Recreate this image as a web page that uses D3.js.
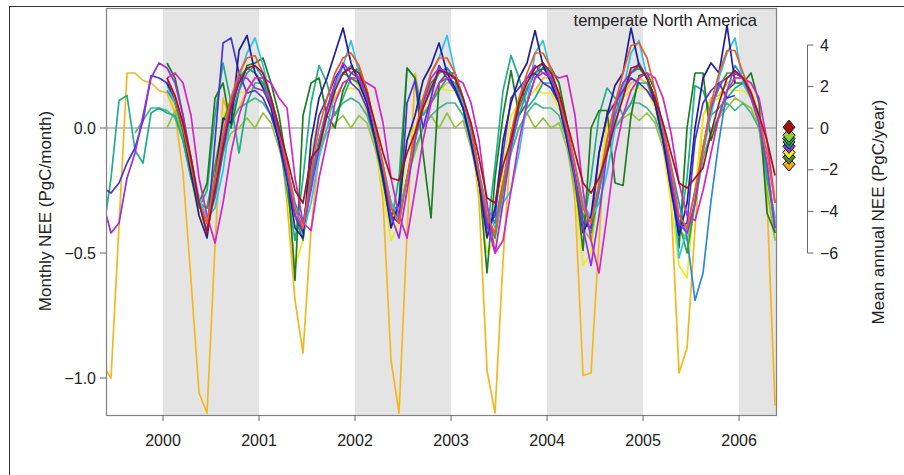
<!DOCTYPE html>
<html><head><meta charset="utf-8">
<script src="https://cdn.jsdelivr.net/npm/d3@7"></script>
<style>body{margin:0;background:#fff}svg{display:block}</style>
</head><body>
<svg id="c" width="904" height="475"></svg>
<script>
// monthly values, May 1999 ... May 2006 (85 months)
const startYear = 1999, startMonth = 5;
const N = null;
const orange = [-0.95,-1.00,-0.39,0.22,0.22,0.19,0.18,0.15,
 0.14,0.06,-0.18,-0.61,-1.06,-1.14,-0.47,0.12,0.02,0.08,0.15,0.20,
 0.20,0.12,0.00,-0.30,-0.69,-0.90,-0.41,-0.10,0.05,0.12,0.18,0.20,
 0.17,0.06,-0.05,-0.29,-0.93,-1.14,-0.42,0.22,0.06,0.10,0.15,0.18,
 0.18,0.08,-0.02,-0.29,-0.97,-1.14,-0.53,-0.05,0.12,0.12,0.15,0.20,
 0.20,0.10,-0.05,-0.29,-0.99,-0.98,-0.45,0.07,0.10,0.13,0.18,0.20,
 0.18,0.08,0.00,-0.29,-0.98,-0.88,-0.40,0.05,0.12,0.13,0.18,0.20,
 0.20,0.15,0.05,-0.29,-1.11];
const navy = [N,N,N,N,N,N,N,N,
 0.18,0.12,0.00,-0.18,-0.35,-0.44,-0.20,0.04,0.02,0.31,0.37,0.22,
 0.16,0.08,-0.06,-0.20,-0.40,-0.44,-0.05,0.12,0.20,0.30,0.40,0.26,
 0.18,0.10,-0.04,-0.20,-0.40,-0.30,-0.05,0.05,0.19,0.25,0.34,0.22,
 0.16,0.08,-0.06,-0.22,-0.44,-0.32,-0.05,0.10,0.20,0.26,0.39,0.25,
 0.18,0.10,-0.05,-0.20,-0.42,-0.35,-0.10,0.05,0.17,0.22,0.40,0.25,
 0.20,0.10,-0.05,-0.25,-0.43,-0.30,0.00,0.20,0.26,0.22,0.41,0.18,
 N,N,N,N,N];
const blue = [-0.24,-0.26,-0.22,-0.14,-0.08,0.03,0.21,0.20,
 0.18,0.12,0.00,-0.15,-0.30,-0.42,-0.05,0.34,0.36,0.22,0.14,0.15,
 0.12,0.05,-0.05,-0.20,-0.35,-0.42,-0.15,0.05,0.12,0.20,0.25,0.18,
 0.15,0.08,-0.05,-0.20,-0.35,-0.38,0.10,0.19,0.00,0.12,0.25,0.20,
 0.15,0.08,-0.05,-0.22,-0.40,-0.35,-0.10,0.12,0.16,0.20,0.22,0.18,
 0.16,0.10,-0.04,-0.20,-0.38,-0.40,-0.10,0.05,0.10,0.15,0.20,0.18,
 0.15,0.10,-0.05,-0.22,-0.40,-0.38,-0.05,0.10,0.15,0.18,0.12,0.13,
 N,N,N,N,N];
const cyan = [N,N,N,N,N,N,N,N,
 0.17,0.10,0.02,-0.12,-0.28,-0.36,-0.32,-0.17,0.05,0.20,0.30,0.36,
 0.25,0.12,0.00,-0.15,-0.32,-0.42,-0.30,-0.12,0.00,0.15,0.25,0.35,
 0.22,0.10,-0.02,-0.15,-0.30,-0.35,-0.20,-0.05,0.10,0.22,0.28,0.37,
 0.22,0.10,-0.02,-0.20,-0.32,-0.40,-0.30,-0.25,-0.10,0.10,0.30,0.35,
 0.22,0.10,-0.02,-0.18,-0.30,-0.36,-0.30,-0.18,0.00,0.15,0.30,0.35,
 0.20,0.10,-0.02,-0.18,-0.52,-0.40,-0.25,-0.10,0.05,0.20,0.30,0.36,
 0.18,0.12,0.03,-0.15,-0.38];
const dodger = [N,N,N,N,N,N,N,N,
 0.15,0.10,0.00,-0.15,-0.30,-0.38,-0.28,-0.10,0.05,0.15,0.22,0.25,
 0.20,0.10,0.00,-0.15,-0.30,-0.38,-0.20,-0.05,0.08,0.16,0.22,0.25,
 0.20,0.12,0.00,-0.15,-0.30,-0.36,-0.20,-0.05,0.08,0.15,0.22,0.24,
 0.20,0.10,0.00,-0.18,-0.32,-0.38,-0.22,-0.08,0.05,0.15,0.22,0.26,
 0.20,0.12,0.00,-0.15,-0.30,-0.38,-0.25,-0.10,0.05,0.15,0.22,0.26,
 0.20,0.12,0.00,-0.15,-0.30,-0.44,-0.69,-0.58,-0.29,-0.05,0.15,0.25,
 0.20,0.14,0.03,-0.15,-0.40];
const redorange = [N,N,N,N,N,N,N,N,
 0.20,0.12,0.00,-0.15,-0.30,-0.38,-0.20,-0.02,0.12,0.22,0.28,0.29,
 0.22,0.12,0.00,-0.15,-0.32,-0.40,-0.18,0.00,0.12,0.22,0.28,0.30,
 0.25,0.15,0.00,-0.15,-0.32,-0.38,-0.20,-0.02,0.12,0.22,0.28,0.28,
 0.22,0.12,0.00,-0.18,-0.35,-0.42,-0.22,-0.02,0.12,0.22,0.30,0.30,
 0.24,0.12,0.00,-0.15,-0.32,-0.38,-0.22,-0.05,0.10,0.22,0.33,0.34,
 0.28,0.15,0.00,-0.15,-0.35,-0.40,-0.25,-0.08,0.10,0.22,0.31,0.31,
 0.22,0.14,0.05,-0.10,-0.30];
const darkred = [N,N,N,N,N,N,N,N,
 0.20,0.13,0.02,-0.12,-0.30,-0.42,-0.25,-0.08,0.08,0.18,0.24,0.25,
 0.22,0.12,0.00,-0.12,-0.25,-0.30,-0.12,-0.08,0.05,0.15,0.22,0.24,
 0.22,0.14,0.02,-0.10,-0.20,-0.21,-0.10,-0.02,0.08,0.16,0.23,0.22,
 0.20,0.12,0.02,-0.12,-0.28,-0.30,-0.15,-0.05,0.10,0.18,0.24,0.26,
 0.22,0.14,0.02,-0.10,-0.22,-0.26,-0.20,-0.10,0.02,0.12,0.24,0.25,
 0.20,0.12,0.02,-0.10,-0.22,-0.24,-0.20,-0.16,-0.02,0.10,0.20,0.23,
 0.20,0.14,0.05,-0.05,-0.19];
const green = [N,N,N,N,N,N,N,N,
 0.18,0.10,-0.02,-0.18,-0.30,-0.32,-0.15,0.02,0.12,0.20,0.24,0.22,
 0.18,0.10,-0.02,-0.20,-0.35,-0.45,-0.22,-0.05,0.08,0.17,0.22,0.20,
 0.18,0.10,-0.02,-0.18,-0.32,-0.36,-0.20,-0.02,0.10,0.18,0.22,0.24,
 0.20,0.10,-0.02,-0.20,-0.36,-0.44,-0.25,-0.05,0.08,0.16,0.22,0.24,
 0.20,0.12,0.00,-0.20,-0.35,-0.42,-0.25,-0.05,0.10,0.18,0.22,0.24,
 0.20,0.10,-0.02,-0.20,-0.38,-0.50,-0.30,-0.08,0.08,0.16,0.22,0.22,
 0.20,0.14,0.02,-0.15,-0.42];
const darkgreen = [N,N,N,N,N,N,N,N,
 0.26,0.20,0.05,-0.15,-0.30,-0.22,0.12,0.18,0.00,0.15,0.25,0.26,
 0.28,0.18,0.05,-0.15,-0.61,0.05,0.18,0.20,0.05,0.00,0.15,0.22,
 0.24,0.15,0.00,-0.18,-0.35,-0.30,0.24,0.20,-0.10,-0.36,0.18,0.22,
 0.22,0.12,-0.02,-0.20,-0.58,-0.20,0.05,0.23,0.05,0.10,0.20,0.24,
 0.24,0.18,0.02,-0.20,-0.49,0.00,0.07,0.07,-0.22,-0.23,0.05,0.21,
 0.22,0.15,0.00,-0.20,-0.48,0.00,0.22,0.22,-0.05,0.05,0.15,0.18,
 0.18,0.22,0.10,-0.34,-0.42];
const seagreen = [-0.42,-0.20,0.11,0.13,-0.09,-0.14,0.06,0.08,
 0.06,0.05,-0.05,-0.20,-0.32,-0.25,0.05,0.26,0.10,-0.10,0.10,0.18,
 0.18,0.10,-0.05,-0.25,-0.45,-0.20,0.10,0.25,0.18,0.05,0.12,0.20,
 0.18,0.10,-0.05,-0.22,-0.38,-0.20,0.24,0.20,0.05,0.10,0.15,0.20,
 0.18,0.08,-0.05,-0.22,-0.42,-0.15,0.15,0.29,0.20,0.08,0.12,0.18,
 0.18,0.10,-0.05,-0.22,-0.40,-0.20,0.05,0.16,0.12,0.05,0.10,0.18,
 0.18,0.10,-0.05,-0.22,-0.42,-0.20,0.17,0.15,0.05,0.08,0.12,0.16,
 0.18,0.12,0.05,-0.20,-0.36];
const medgreen = [N,N,N,N,-0.02,0.03,0.08,0.08,
 0.07,0.04,-0.05,-0.18,-0.30,-0.32,-0.20,-0.08,0.02,0.08,0.10,0.12,
 0.10,0.05,-0.05,-0.20,-0.35,-0.38,-0.20,-0.10,0.00,0.06,0.10,0.12,
 0.10,0.05,-0.05,-0.18,-0.30,-0.35,-0.20,-0.08,0.00,0.05,0.08,0.10,
 0.10,0.05,-0.05,-0.20,-0.35,-0.38,-0.22,-0.10,0.00,0.06,0.10,0.08,
 0.08,0.05,-0.05,-0.20,-0.35,-0.40,-0.25,-0.10,0.00,0.05,0.10,0.10,
 0.08,0.04,-0.05,-0.20,-0.38,-0.42,-0.30,-0.12,-0.02,0.05,0.10,0.07,
 0.10,0.06,0.00,-0.20,-0.38];
const purple = [-0.30,-0.42,-0.38,-0.20,-0.10,0.05,0.20,0.26,
 0.24,0.18,0.05,-0.12,-0.30,-0.38,-0.25,-0.05,0.10,0.20,0.20,0.16,
 0.15,0.10,-0.02,-0.18,-0.35,-0.40,-0.25,-0.08,0.08,0.18,0.26,0.22,
 0.20,0.12,0.00,-0.15,-0.35,-0.44,-0.25,-0.05,0.10,0.20,0.24,0.22,
 0.20,0.12,0.00,-0.18,-0.38,-0.50,-0.30,-0.08,0.10,0.20,0.25,0.22,
 0.20,0.12,-0.02,-0.20,-0.40,-0.55,-0.35,-0.10,0.08,0.18,0.22,0.25,
 0.20,0.12,0.00,-0.20,-0.38,-0.42,-0.30,-0.08,0.08,0.18,0.20,0.22,
 0.20,0.12,0.02,-0.15,-0.40];
const magenta = [N,N,N,N,N,N,N,N,
 0.20,0.22,0.18,0.05,-0.20,-0.35,-0.46,-0.30,-0.10,0.05,0.15,0.20,
 0.20,0.18,0.12,0.08,-0.20,-0.38,-0.41,-0.20,-0.05,0.10,0.18,0.20,
 0.20,0.18,0.16,0.02,-0.20,-0.35,-0.44,-0.25,-0.05,0.10,0.18,0.20,
 0.20,0.18,0.10,-0.05,-0.30,-0.50,-0.45,-0.25,-0.05,0.10,0.20,0.22,
 0.22,0.20,0.21,0.05,-0.25,-0.45,-0.58,-0.35,-0.10,0.05,0.15,0.20,
 0.22,0.20,0.12,-0.02,-0.22,-0.35,-0.37,-0.25,-0.10,0.05,0.15,0.20,
 0.20,0.18,0.12,-0.05,-0.30];
const yellow = [N,N,N,N,N,N,N,N,
 0.15,0.08,-0.05,-0.20,-0.35,-0.40,-0.15,0.05,0.10,0.14,0.15,0.16,
 0.15,0.08,-0.05,-0.25,-0.55,-0.45,-0.10,0.05,0.08,0.14,0.15,0.16,
 0.15,0.08,-0.08,-0.25,-0.45,-0.38,-0.05,0.00,0.08,0.12,0.16,0.15,
 0.15,0.08,-0.05,-0.25,-0.50,-0.45,-0.15,0.05,0.10,0.12,0.15,0.14,
 0.14,0.08,-0.05,-0.25,-0.55,-0.50,-0.20,0.00,0.08,0.12,0.15,0.16,
 0.15,0.08,-0.08,-0.30,-0.55,-0.60,-0.25,0.05,0.10,0.12,0.15,0.15,
 0.15,0.12,0.00,-0.20,-0.45];
const olive = [N,N,N,N,N,N,N,N,
 0.00,0.07,-0.05,-0.20,-0.30,-0.32,-0.25,-0.10,-0.02,0.00,0.04,0.00,
 0.06,0.02,-0.08,-0.20,-0.35,-0.40,-0.22,-0.10,-0.02,0.02,0.05,0.00,
 0.05,0.02,-0.08,-0.20,-0.35,-0.38,-0.20,-0.10,0.00,0.05,0.00,0.06,
 0.00,0.03,-0.08,-0.22,-0.38,-0.42,-0.25,-0.10,0.00,0.06,0.00,0.04,
 0.00,0.02,-0.08,-0.25,-0.40,-0.45,-0.25,-0.08,0.00,0.04,0.06,0.03,
 0.06,0.02,-0.08,-0.22,-0.40,-0.45,-0.30,-0.12,-0.02,0.04,0.08,0.12,
 0.10,0.08,0.00,-0.25,-0.45];

const seriesData = [orange, yellow, olive, medgreen, seagreen, green, darkgreen, dodger, cyan, blue, navy, purple, magenta, redorange, darkred];
const seriesColors = ["#f4b71e","#ecec18","#94c43c","#45b68c","#1fae8a","#2aa52e","#1d7d21","#2a8ad8","#2cc4e6","#4634dc","#1f1f9c","#9b2ee0","#d226c6","#f05a28","#a5161c"];

// mean annual NEE (right axis), top to bottom
const meanValues = [0.05,-0.34,-0.5,-0.66,-0.87,-1.16,-1.4,-1.73];
const meanColors = ["#a01010","#9acd32","#22a83a","#20b090","#9b2ee0","#f0f020","#5a8a1a","#f4a81e"];

const xTicks = [2000,2001,2002,2003,2004,2005,2006];
const yTicksLeft = [0,-0.5,-1.0];
const yTicksRight = [4,2,0,-2,-4,-6];
const shadedStarts = [2000,2002,2004,2006];
const title = "temperate North America";

const svg = d3.select("#c");
const L=106, R=776, T=8, B=415;
const x = d3.scaleLinear().domain([1999.406, 2006.385]).range([L,R]);
const y = d3.scaleLinear().domain([-1.148, 0.48]).range([B,T]);
const y2 = d3.scaleLinear().domain([-6,4]).range([253,45]);
const font = "'Liberation Sans', Arial, Helvetica, sans-serif";
const txt = "#222";

// frame
svg.append("line").attr("x1",9.5).attr("x2",9.5).attr("y1",6.5).attr("y2",475).attr("stroke","#333");
svg.append("line").attr("x1",9).attr("x2",904).attr("y1",6.5).attr("y2",6.5).attr("stroke","#333").attr("stroke-width",1.2);

// shaded years
svg.selectAll("rect.band").data(shadedStarts).enter().append("rect")
  .attr("x",d=>x(d)).attr("y",T).attr("width",d=>Math.min(x(d+1),R)-x(d)).attr("height",B-T)
  .attr("fill","#e4e4e4");

// zero line
svg.append("line").attr("x1",L).attr("x2",R).attr("y1",y(0)).attr("y2",y(0)).attr("stroke","#888").attr("stroke-width",1);

svg.append("clipPath").attr("id","clip").append("rect").attr("x",L).attr("y",T).attr("width",R-L).attr("height",B-T);
const tOf = i => startYear + (startMonth - 1 + i + 0.5)/12;
const line = d3.line().defined(d=>d!=null).x((d,i)=>x(tOf(i))).y(d=>y(d));
const g = svg.append("g").attr("clip-path","url(#clip)");
seriesData.forEach((s,k)=>{
  g.append("path").attr("d",line(s)).attr("fill","none").attr("stroke",seriesColors[k])
   .attr("stroke-width",1.7).attr("stroke-linejoin","round");
});

// box
svg.append("rect").attr("x",L+0.5).attr("y",T+0.5).attr("width",R-L).attr("height",B-T)
  .attr("fill","none").attr("stroke","#808080").attr("stroke-width",1.2);

// bottom axis
const ax = svg.append("g");
xTicks.forEach(t=>{
  ax.append("line").attr("x1",x(t)).attr("x2",x(t)).attr("y1",B).attr("y2",B+6).attr("stroke","#666");
  ax.append("text").attr("x",x(t)).attr("y",446).attr("text-anchor","middle")
    .attr("font-family",font).attr("font-size",16).attr("fill",txt).text(t);
});
// left axis
yTicksLeft.forEach(v=>{
  ax.append("line").attr("x1",L-6).attr("x2",L).attr("y1",y(v)).attr("y2",y(v)).attr("stroke","#666");
  ax.append("text").attr("x",96).attr("y",y(v)+5.5).attr("text-anchor","end")
    .attr("font-family",font).attr("font-size",16).attr("fill",txt).text(d3.format(".1f")(v).replace("-","\u2212"));
});
svg.append("text").attr("transform","translate(51,211) rotate(-90)").attr("text-anchor","middle")
  .attr("font-family",font).attr("font-size",17).attr("fill",txt).text("Monthly NEE (PgC/month)");

// right axis
const rx = 807.5;
ax.append("line").attr("x1",rx).attr("x2",rx).attr("y1",y2(4)).attr("y2",y2(-6)).attr("stroke","#666");
yTicksRight.forEach(v=>{
  ax.append("line").attr("x1",rx).attr("x2",rx+6).attr("y1",y2(v)).attr("y2",y2(v)).attr("stroke","#666");
  ax.append("text").attr("x",820).attr("y",y2(v)+5.5).attr("text-anchor","start")
    .attr("font-family",font).attr("font-size",16).attr("fill",txt).text(String(v).replace("-","\u2212"));
});
svg.append("text").attr("transform","translate(884,212) rotate(-90)").attr("text-anchor","middle")
  .attr("font-family",font).attr("font-size",17).attr("fill",txt).text("Mean annual NEE (PgC/year)");

// diamonds
const dia = "M0,-7L6,0L0,7L-6,0Z";
const order = d3.range(meanValues.length).reverse();
order.forEach(i=>{
  svg.append("path").attr("d",dia).attr("transform",`translate(789,${y2(meanValues[i])})`)
    .attr("fill",meanColors[i]).attr("stroke","#111").attr("stroke-width",1);
});

// title
svg.append("text").attr("x",757).attr("y",26).attr("text-anchor","end")
  .attr("font-family",font).attr("font-size",16.5).attr("fill",txt).text(title);
</script>
</body></html>
